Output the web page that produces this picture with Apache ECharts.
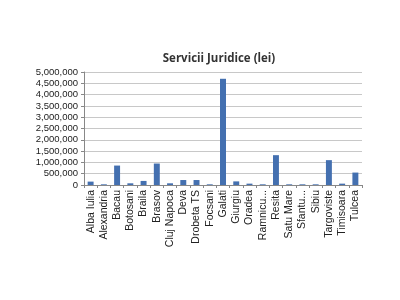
<!DOCTYPE html>
<html>
<head>
    <meta charset="UTF-8">
    <title>Servicii Juridice</title>
    <script type="text/javascript" src="https://cdn.jsdelivr.net/npm/echarts@6/dist/echarts.min.js"></script>
</head>
<body style="margin:0;background-color:#ffffff;">
<div id="chart" style="width:400px;height:300px;"></div>
<script>
    // date
    var orase = ['Alba Iulia', 'Alexandria', 'Bacau', 'Botosani', 'Braila', 'Brasov', 'Cluj Napoca', 'Deva',
        'Drobeta TS', 'Focsani', 'Galati', 'Giurgiu', 'Oradea', 'Ramnicu...', 'Resita', 'Satu Mare',
        'Sfantu...', 'Sibiu', 'Targoviste', 'Timisoara', 'Tulcea'];
    var valori = [150000, 30000, 860000, 75000, 180000, 950000, 75000, 220000,
        220000, 30000, 4700000, 160000, 60000, 30000, 1320000, 30000,
        30000, 30000, 1100000, 60000, 550000];

    var chart = echarts.init(document.getElementById('chart'), null, {renderer: 'canvas'});
    chart.setOption({
        animation: false,
        title: {
            text: 'Servicii Juridice (lei)',
            left: 214,
            top: 48,
            textAlign: 'center',
            textStyle: {fontFamily: 'Open Sans', fontSize: 11.5, fontWeight: 'bold', color: '#333'}
        },
        grid: {left: 84, right: 38, top: 72, bottom: 115},
        xAxis: {
            type: 'category',
            data: orase,
            axisLine: {lineStyle: {color: '#888'}},
            axisTick: {show: true, alignWithLabel: false, length: 3, lineStyle: {color: '#888'}},
            axisLabel: {rotate: 90, interval: 0, fontFamily: 'Liberation Sans', fontSize: 10.5, color: '#222', margin: 5}
        },
        yAxis: {
            type: 'value',
            min: 0,
            max: 5000000,
            interval: 500000,
            axisLine: {show: true, lineStyle: {color: '#888'}},
            axisTick: {show: true, inside: false, length: 3, lineStyle: {color: '#888'}},
            splitLine: {lineStyle: {color: '#c8c8c8'}},
            axisLabel: {
                fontFamily: 'Liberation Sans', fontSize: 9.5, color: '#222', margin: 6,
                formatter: function (v) { return v.toLocaleString('en-US'); }
            }
        },
        series: [{
            type: 'bar',
            data: valori,
            barWidth: '45%',
            itemStyle: {color: '#4470b0'}
        }]
    });
</script>
</body>
</html>
